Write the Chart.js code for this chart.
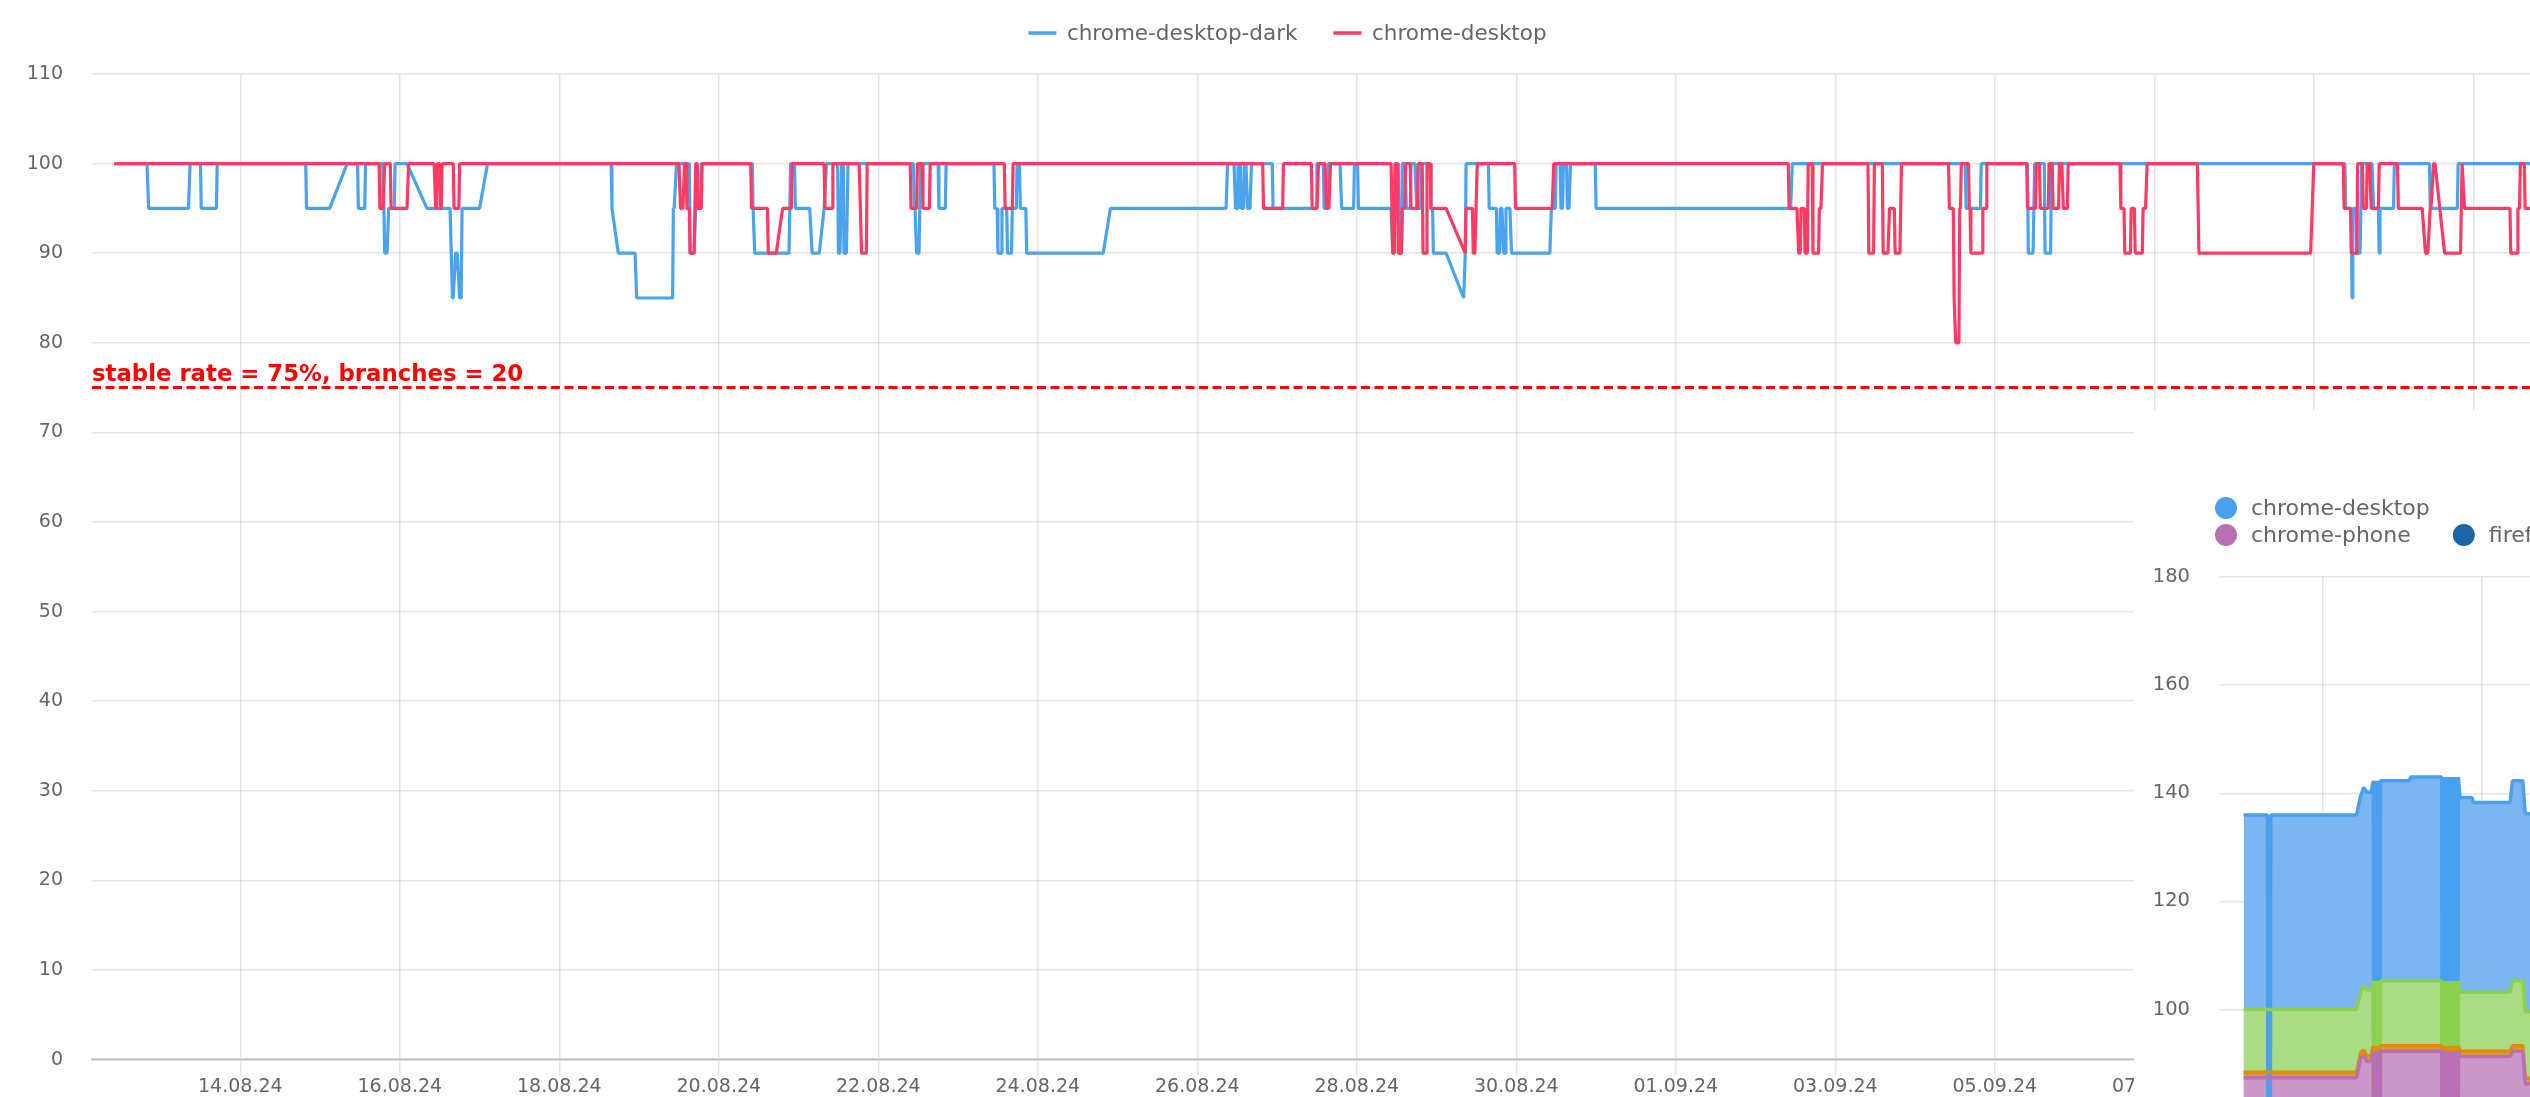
<!DOCTYPE html>
<html>
<head>
<meta charset="utf-8">
<script src="https://cdn.jsdelivr.net/npm/chart.js@4.4.1/dist/chart.umd.min.js"></script>
<style>
  html, body { margin: 0; padding: 0; width: 2530px; height: 1097px; overflow: hidden; background: #fff; }
  #main { position: absolute; left: 0; top: 0; }
  #stack { position: absolute; left: 2134px; top: 410px; background: #fff; }
</style>
</head>
<body>
<canvas id="main" width="2575" height="1100"></canvas>
<canvas id="stack" width="437" height="1181"></canvas>
<script>
// x values are days counted from 1 August 2024 (32 = 01.09.24)
// [from, to, rate] plateaus
const darkSteps = [
  [12.42,12.83,100],[12.85,13.35,95],[13.37,13.50,100],[13.51,13.70,95],[13.71,14.82,100],[14.83,15.12,95],
  [15.34,15.47,100],[15.48,15.56,95],[15.57,15.79,100],[15.81,15.84,90],[15.86,15.93,95],[15.94,16.09,100],
  [16.34,16.63,95],[16.66,16.67,85],[16.70,16.72,90],[16.75,16.77,85],[16.78,17.00,95],[17.10,18.65,100],
  [18.66,18.66,95],[18.74,18.95,90],[18.97,19.42,85],[19.43,19.44,95],[19.47,19.63,100],[19.64,19.69,90],
  [19.71,19.77,95],[19.78,20.42,100],[20.43,20.43,95],[20.45,20.88,90],[20.90,20.95,100],[20.96,21.14,95],
  [21.17,21.26,90],[21.32,21.33,95],[21.35,21.49,100],[21.50,21.52,90],[21.54,21.56,100],[21.57,21.60,90],
  [21.62,22.44,100],[22.45,22.46,95],[22.48,22.51,90],[22.53,22.75,100],[22.76,22.84,95],[22.85,23.45,100],
  [23.46,23.49,95],[23.50,23.54,90],[23.55,23.61,95],[23.62,23.67,90],[23.68,23.73,95],[23.74,23.77,100],
  [23.78,23.85,95],[23.86,24.82,90],[24.91,26.36,95],[26.38,26.46,100],[26.48,26.50,95],[26.51,26.54,100],
  [26.55,26.58,95],[26.59,26.61,100],[26.63,26.66,95],[26.68,26.94,100],[26.95,27.49,95],[27.50,27.58,100],
  [27.59,27.63,95],[27.64,27.79,100],[27.81,27.96,95],[27.97,28.01,100],[28.02,28.43,95],[28.45,28.47,90],
  [28.48,28.52,100],[28.53,28.56,90],[28.57,28.61,100],[28.62,28.67,95],[28.68,28.73,100],[28.75,28.80,95],
  [28.81,28.92,100],[28.93,28.95,95],[28.96,29.12,90],[29.34,29.34,85],[29.36,29.36,90],[29.37,29.65,100],
  [29.66,29.75,95],[29.76,29.79,90],[29.80,29.82,95],[29.84,29.86,90],[29.87,29.92,95],[29.94,30.42,90],
  [30.44,30.49,95],[30.50,30.55,100],[30.56,30.58,95],[30.59,30.63,100],[30.64,30.66,95],[30.68,30.99,100],
  [31.00,33.44,95],[33.46,35.63,100],[35.64,35.82,95],[35.83,36.41,100],[36.42,36.48,90],[36.50,36.62,100],
  [36.63,36.70,90],[36.71,40.39,100],[40.40,40.47,95],[40.48,40.48,85],[40.49,40.53,95],[40.54,40.58,90],
  [40.60,40.73,100],[40.75,40.81,95],[40.82,40.82,90],[40.83,41.00,95],[41.01,41.45,100],[41.46,41.80,95],
  [41.81,43.15,100]
];

const deskSteps = [
  [12.42,15.74,100],[15.75,15.79,95],[15.81,15.88,100],[15.89,16.09,95],[16.11,16.43,100],[16.45,16.46,95],
  [16.47,16.50,100],[16.51,16.52,95],[16.53,16.67,100],[16.68,16.74,95],[16.75,19.50,100],[19.52,19.55,95],
  [19.57,19.59,100],[19.60,19.63,95],[19.64,19.69,90],[19.71,19.73,100],[19.74,19.78,95],[19.79,20.40,100],
  [20.41,20.61,95],[20.62,20.72,90],[20.80,20.91,95],[20.92,21.32,100],[21.33,21.42,95],[21.43,21.76,100],
  [21.79,21.85,90],[21.86,22.40,100],[22.41,22.48,95],[22.49,22.55,100],[22.56,22.64,95],[22.65,23.58,100],
  [23.59,23.68,95],[23.69,26.82,100],[26.83,27.07,95],[27.08,27.43,100],[27.44,27.50,95],[27.52,27.60,100],
  [27.62,27.65,95],[27.67,28.43,100],[28.45,28.47,90],[28.48,28.51,100],[28.52,28.56,90],[28.57,28.60,95],
  [28.61,28.67,100],[28.68,28.76,95],[28.77,28.82,100],[28.83,28.87,90],[28.88,28.92,100],[28.93,29.12,95],
  [29.36,29.36,90],[29.37,29.45,95],[29.46,29.48,90],[29.51,29.98,100],[29.99,30.45,95],[30.47,33.41,100],
  [33.42,33.52,95],[33.54,33.56,90],[33.57,33.61,95],[33.62,33.65,90],[33.66,33.71,100],[33.72,33.79,90],
  [33.80,33.82,95],[33.84,34.41,100],[34.42,34.48,90],[34.49,34.59,100],[34.60,34.66,90],[34.68,34.74,95],
  [34.75,34.81,90],[34.83,35.42,100],[35.43,35.48,95],[35.49,35.50,85],[35.51,35.55,80],[35.56,35.57,95],
  [35.58,35.67,100],[35.68,35.69,95],[35.70,35.84,90],[35.85,35.89,95],[35.90,36.40,100],[36.41,36.51,95],
  [36.52,36.56,100],[36.57,36.67,95],[36.68,36.72,100],[36.73,36.80,95],[36.81,36.84,100],[36.86,36.91,95],
  [36.92,37.57,100],[37.58,37.62,95],[37.63,37.70,90],[37.71,37.75,95],[37.76,37.85,90],[37.86,37.89,95],
  [37.91,38.54,100],[38.56,39.96,90],[39.98,39.98,95],[40.00,40.37,100],[40.38,40.46,95],[40.47,40.54,90],
  [40.55,40.61,100],[40.62,40.66,95],[40.67,40.70,100],[40.72,40.81,95],[40.82,41.05,100],[41.06,41.36,95],
  [41.40,41.43,90],[41.46,41.47,95],[41.50,41.52,100],[41.64,41.84,90],[41.85,41.85,95],[41.86,41.87,100],
  [41.89,42.46,95],[42.47,42.55,90],[42.56,42.58,95],[42.59,42.64,100],[42.65,43.15,95]
];

const stableRate = 75;
const stableLabel = 'stable rate = 75%, branches = 20';

// second chart, overlapping the lower right corner
const stackDays = [39.01,39.31,39.32,39.34,39.35,
  40.43,40.48,40.52,40.56,40.61,40.64,
  40.655,40.67,40.685,40.70,40.715,40.73,
  41.09,41.11,
  41.50,41.515,41.53,41.545,41.56,41.575,41.59,41.605,41.62,41.635,41.65,41.665,41.68,41.695,41.71,
  41.73,41.76,41.88,41.90,42.36,42.39,42.52,42.55,43.00];
const desktopCount = [136,136,0,0,136,
  136,139.5,141.1,140.2,140.2,142.3,
  0,142.3,0,142.3,0,142.3,
  142.3,143,
  143,0,143,0,143,0,143,0,143,0,143,0,143,0,143,
  139.2,139.2,139.2,138.3,138.3,142.3,142.3,136.2,136.2];
const greenCount = [100,100,100,100,100,
  100,103.0,104.4,103.6,103.6,105.3,
  0,105.3,0,105.3,0,105.3,
  105.3,105.3,
  105.3,0,105.3,0,105.3,0,105.3,0,105.3,0,105.3,0,105.3,0,105.3,
  103.2,103.2,103.2,103.2,103.2,105.3,105.3,99.6,99.6];
const orangeCount = [88.4,88.4,88.4,88.4,88.4,
  88.4,92.0,92.5,91.4,91.4,93.3,
  0,93.3,0,93.3,0,93.3,
  93.3,93.3,
  93.3,0,93.3,0,93.3,0,93.3,0,93.3,0,93.3,0,93.3,0,93.3,
  92.3,92.3,92.3,92.3,92.3,93.3,93.3,87.3,87.3];
const phoneCount = [87.4,87.4,87.4,87.4,87.4,
  87.4,91.0,91.5,90.4,90.4,92.3,
  0,92.3,0,92.3,0,92.3,
  92.3,92.3,
  92.3,0,92.3,0,92.3,0,92.3,0,92.3,0,92.3,0,92.3,0,92.3,
  91.3,91.3,91.3,91.3,91.3,92.3,92.3,86.3,86.3];
const legendRows = [['chrome-desktop'], ['chrome-phone', 'firefox-desktop']];

function toPoints(steps) {
  const pts = [];
  steps.forEach(s => {
    pts.push({x: s[0], y: s[2]});
    if (s[1] !== s[0]) pts.push({x: s[1], y: s[2]});
  });
  return pts;
}

function dayLabel(v) {
  const d = new Date(2024, 7, v);
  const p = n => String(n).padStart(2, '0');
  return p(d.getDate()) + '.' + p(d.getMonth() + 1) + '.' + String(d.getFullYear()).slice(2);
}

const tickFont = { family: 'DejaVu Sans', size: 19 };
const gridColor = 'rgba(0,0,0,0.1)';

const stableLine = {
  id: 'stableLine',
  afterDatasetsDraw(chart) {
    const { ctx, chartArea, scales } = chart;
    const y = scales.y.getPixelForValue(stableRate);
    ctx.save();
    ctx.strokeStyle = '#ff0000';
    ctx.lineWidth = 3;
    ctx.setLineDash([9, 4.5]);
    ctx.beginPath();
    ctx.moveTo(chartArea.left, y);
    ctx.lineTo(chartArea.right, y);
    ctx.stroke();
    ctx.setLineDash([]);
    ctx.fillStyle = '#ff0000';
    ctx.font = 'bold 22.8px "DejaVu Sans"';
    ctx.textBaseline = 'alphabetic';
    ctx.fillText(stableLabel, chartArea.left, y - 7);
    ctx.restore();
  }
};

const lineLegend = {
  id: 'lineLegend',
  afterDraw(chart) {
    const ctx = chart.ctx;
    ctx.save();
    ctx.font = '21.5px "DejaVu Sans"';
    const items = chart.data.datasets.map(ds => ({ ds, w: 28 + 10.5 + ctx.measureText(ds.label).width }));
    const total = items.reduce((s, it) => s + it.w, 0) + 36 * (items.length - 1);
    let x = chart.width / 2 - total / 2;
    const y = 33;
    ctx.textBaseline = 'middle';
    ctx.lineWidth = 3.5;
    items.forEach(it => {
      ctx.strokeStyle = it.ds.borderColor;
      ctx.beginPath();
      ctx.moveTo(x, y);
      ctx.lineTo(x + 28, y);
      ctx.stroke();
      ctx.fillStyle = '#666';
      ctx.fillText(it.ds.label, x + 38.5, y + 1);
      x += it.w + 36;
    });
    ctx.restore();
  }
};

const dotLegend = {
  id: 'dotLegend',
  afterDraw(chart) {
    const { ctx, chartArea } = chart;
    ctx.save();
    ctx.font = '22px "DejaVu Sans"';
    ctx.textBaseline = 'middle';
    legendRows.forEach((row, r) => {
      let x = chartArea.left - 4;
      const y = chartArea.top - 69 + r * 27;
      row.forEach(label => {
        const ds = chart.data.datasets.find(d => d.label === label);
        ctx.fillStyle = ds.borderColor;
        ctx.beginPath();
        ctx.arc(x + 11, y, 11, 0, Math.PI * 2);
        ctx.fill();
        ctx.fillStyle = '#666';
        ctx.fillText(label, x + 36, y + 1);
        x += 36 + ctx.measureText(label).width + 42;
      });
    });
    ctx.restore();
  }
};

new Chart(document.getElementById('main'), {
  type: 'line',
  data: {
    datasets: [
      { label: 'chrome-desktop-dark', data: toPoints(darkSteps), borderColor: '#4aa3ef', order: 1 },
      { label: 'chrome-desktop', data: toPoints(deskSteps), borderColor: '#ff3a64', order: 0 }
    ]
  },
  options: {
    responsive: false,
    animation: false,
    devicePixelRatio: 1,
    layout: { padding: { top: 74, right: 10, left: 0, bottom: 0 } },
    elements: { point: { radius: 0 }, line: { borderWidth: 3.2, tension: 0, fill: false, borderJoinStyle: 'bevel' } },
    plugins: { legend: { display: false }, tooltip: { enabled: false } },
    scales: {
      x: {
        type: 'linear', min: 12.14, max: 43.15,
        afterFit: s => { s.height = 40; },
        grid: { color: gridColor, lineWidth: 1.5, tickLength: 16 },
        border: { display: true, color: 'rgba(0,0,0,0.16)', width: 2.5 },
        ticks: { stepSize: 2, includeBounds: false, autoSkip: false, maxRotation: 0, padding: 0,
          color: '#666', font: tickFont, callback: v => dayLabel(v) }
      },
      y: {
        min: 0, max: 110,
        afterFit: s => { s.width = 92; },
        grid: { color: gridColor, lineWidth: 1.5, drawTicks: false },
        border: { display: false },
        ticks: { stepSize: 10, padding: 29, color: '#666', font: tickFont }
      }
    }
  },
  plugins: [stableLine, lineLegend]
});

const stackPts = vals => stackDays.map((d, i) => ({ x: d, y: vals[i] }));

new Chart(document.getElementById('stack'), {
  type: 'line',
  data: {
    datasets: [
      { label: 'chrome-phone', data: stackPts(phoneCount), borderColor: '#b86fb4', backgroundColor: '#c997c8', fill: 'origin' },
      { label: '', data: stackPts(orangeCount), borderColor: '#de8d06', backgroundColor: '#e29a2a', fill: 'origin' },
      { label: '', data: stackPts(greenCount), borderColor: '#8bd14f', backgroundColor: '#a9dc85', fill: 'origin' },
      { label: 'chrome-desktop', data: stackPts(desktopCount), borderColor: '#48a0ee', backgroundColor: '#7cb6f2', fill: 'origin' },
      { label: 'firefox-desktop', data: [], borderColor: '#1b64a7', backgroundColor: '#1b64a7' }
    ]
  },
  options: {
    responsive: false,
    animation: false,
    devicePixelRatio: 1,
    layout: { padding: { top: 167, right: 10, left: 0, bottom: 0 } },
    elements: { point: { radius: 0 }, line: { borderWidth: 3.5, tension: 0, borderJoinStyle: 'bevel' } },
    plugins: { legend: { display: false }, tooltip: { enabled: false }, filler: { drawTime: 'beforeDatasetsDraw' } },
    scales: {
      x: {
        type: 'linear', min: 38.7, max: 43.0,
        afterFit: s => { s.height = 40; },
        grid: { color: gridColor, lineWidth: 1.5 },
        ticks: { stepSize: 2, includeBounds: false, autoSkip: false, maxRotation: 0,
          color: '#666', font: { family: 'DejaVu Sans', size: 19.5 }, callback: v => dayLabel(v) }
      },
      y: {
        min: 0, max: 180,
        afterFit: s => { s.width = 85; },
        grid: { color: gridColor, lineWidth: 1.5, drawTicks: false },
        border: { display: false },
        ticks: { stepSize: 20, padding: 29, color: '#666', font: { family: 'DejaVu Sans', size: 19.5 } }
      }
    }
  },
  plugins: [dotLegend]
});
</script>
</body>
</html>
